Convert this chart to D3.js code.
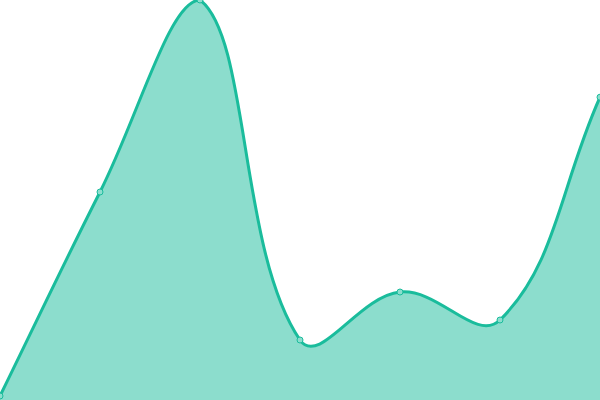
<!DOCTYPE html>
<html>
<head>
<meta charset="utf-8">
<script src="https://cdn.jsdelivr.net/npm/d3@7"></script>
<style>
  body { margin: 0; overflow: hidden; background: #fff; }
</style>
</head>
<body>
<div id="chart"></div>
<script>
// Data
const labels = ['A', 'B', 'C', 'D', 'E', 'F', 'G'];
const values = [10, 520, 1000, 150, 270, 200, 757];

const width = 600;
const height = 400;

// Spline curve with tension 0.4, control points kept inside the plot box
function TensionSpline(context) { this._context = context; }
TensionSpline.prototype = {
    areaStart() { this._line = 0; },
    areaEnd() { this._line = NaN; },
    lineStart() { this._pts = []; },
    point(x, y) { this._pts.push([+x, +y]); },
    lineEnd() {
        const p = this._pts, n = p.length, t = 0.4, ctx = this._context;
        const cap = (v, lo, hi) => Math.max(lo, Math.min(hi, v));
        if (n) {
            if (this._line) ctx.lineTo(p[0][0], p[0][1]);
            else ctx.moveTo(p[0][0], p[0][1]);
        }
        // control points for each point
        const cps = p.map((cur, i) => {
            const prev = p[i - 1] || cur, next = p[i + 1] || cur;
            const d01 = Math.hypot(cur[0] - prev[0], cur[1] - prev[1]);
            const d12 = Math.hypot(next[0] - cur[0], next[1] - cur[1]);
            let s01 = d01 / (d01 + d12), s12 = d12 / (d01 + d12);
            if (isNaN(s01)) s01 = 0;
            if (isNaN(s12)) s12 = 0;
            const fa = t * s01, fb = t * s12;
            const dx = next[0] - prev[0], dy = next[1] - prev[1];
            return {
                prev: [cap(cur[0] - fa * dx, 0, width), cap(cur[1] - fa * dy, 0, height)],
                next: [cap(cur[0] + fb * dx, 0, width), cap(cur[1] + fb * dy, 0, height)]
            };
        });
        for (let i = 1; i < n; i++) {
            const a = cps[i - 1].next, b = cps[i].prev;
            ctx.bezierCurveTo(a[0], a[1], b[0], b[1], p[i][0], p[i][1]);
        }
        if (this._line || (this._line !== 0 && n === 1)) ctx.closePath();
        this._line = 1 - this._line;
    }
};
const curveTension = context => new TensionSpline(context);

const svg = d3.select('#chart')
    .append('svg')
    .attr('width', width)
    .attr('height', height);

const x = d3.scalePoint()
    .domain(labels)
    .range([0, width]);

const y = d3.scaleLinear()
    .domain([0, 1000])
    .range([height, 0]);

const data = labels.map((l, i) => ({ label: l, value: values[i] }));

// Filled area under the curve
const area = d3.area()
    .x(d => x(d.label))
    .y0(height)
    .y1(d => y(d.value))
    .curve(curveTension);

svg.append('path')
    .datum(data)
    .attr('d', area)
    .attr('fill', '#1abc9c')
    .attr('fill-opacity', 0.5);

// Line on top
const line = d3.line()
    .x(d => x(d.label))
    .y(d => y(d.value))
    .curve(curveTension);

svg.append('path')
    .datum(data)
    .attr('d', line)
    .attr('fill', 'none')
    .attr('stroke', '#1abc9c')
    .attr('stroke-width', 3);

// Small point markers
svg.append('g')
    .selectAll('circle')
    .data(data)
    .enter()
    .append('circle')
    .attr('cx', d => x(d.label))
    .attr('cy', d => y(d.value))
    .attr('r', 3)
    .attr('fill', '#8cdece')
    .attr('stroke', '#1abc9c')
    .attr('stroke-width', 1);
</script>
</body>
</html>
